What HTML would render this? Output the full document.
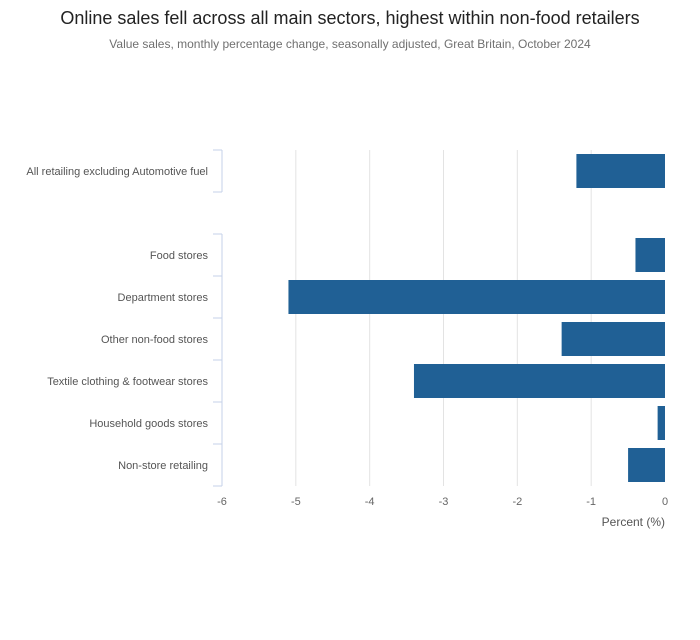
<!DOCTYPE html>
<html><head><meta charset="utf-8"><style>
body{margin:0;background:#fff;font-family:"Liberation Sans",sans-serif;}
svg text{font-family:"Liberation Sans",sans-serif;}
</style></head><body>
<svg id="c" width="700" height="635">
<text x="350" y="24" text-anchor="middle" font-size="18" fill="#222">Online sales fell across all main sectors, highest within non-food retailers</text>
<text x="350" y="48" text-anchor="middle" font-size="12" fill="#707070">Value sales, monthly percentage change, seasonally adjusted, Great Britain, October 2024</text>
<g id="g"></g>
<text x="665" y="526" text-anchor="end" font-size="12" fill="#555">Percent (%)</text>
</svg>
<script>
const categories=["All retailing excluding Automotive fuel","","Food stores","Department stores","Other non-food stores","Textile clothing & footwear stores","Household goods stores","Non-store retailing"];
const values=[-1.2,null,-0.4,-5.1,-1.4,-3.4,-0.1,-0.5];
const ticks=[-6,-5,-4,-3,-2,-1,0];
const ns="http://www.w3.org/2000/svg",g=document.getElementById('g');
const x0=222,x1=665,plotTop=150,plotBot=486,rowH=(plotBot-plotTop)/categories.length;
const xs=v=>x0+(v+6)/6*(x1-x0);
function mk(t,a,p){const e=document.createElementNS(ns,t);for(const k in a)e.setAttribute(k,a[k]);(p||g).appendChild(e);return e;}
ticks.forEach(t=>{
 if(t>-6&&t<0){const l=mk('line',{x1:xs(t),x2:xs(t),y1:plotTop,y2:plotBot,stroke:'#e3e3e3'});
 
 }
 const tx=mk('text',{x:xs(t),y:plotBot+19,'text-anchor':'middle','font-size':11,fill:'#666'});tx.textContent=t;
 
 
});
categories.forEach((c,i)=>{
 const y0=plotTop+i*rowH;
 if(c!==""){
  const ax=mk('line',{x1:x0,x2:x0,y1:y0,y2:y0+rowH,stroke:'#c5d2e8'});
  
  
  const lb=mk('text',{x:208,y:y0+rowH/2+4,'text-anchor':'end','font-size':11,fill:'#555'});lb.textContent=c;
  
  
 }
 const tk=mk('line',{x1:x0-9,x2:x0,y1:y0,y2:y0,stroke:'#c5d2e8'});
 
 
 if(values[i]!=null){
  const v=values[i],a=xs(Math.min(v,0)),b=xs(Math.max(v,0));
  const r=mk('rect',{x:a,y:y0+4,width:b-a,height:rowH-8,fill:'#206095'});
  
  
 }
});
const lt=mk('line',{x1:x0-9,x2:x0,y1:plotBot,y2:plotBot,stroke:'#c5d2e8'});


</script>
</body></html>
